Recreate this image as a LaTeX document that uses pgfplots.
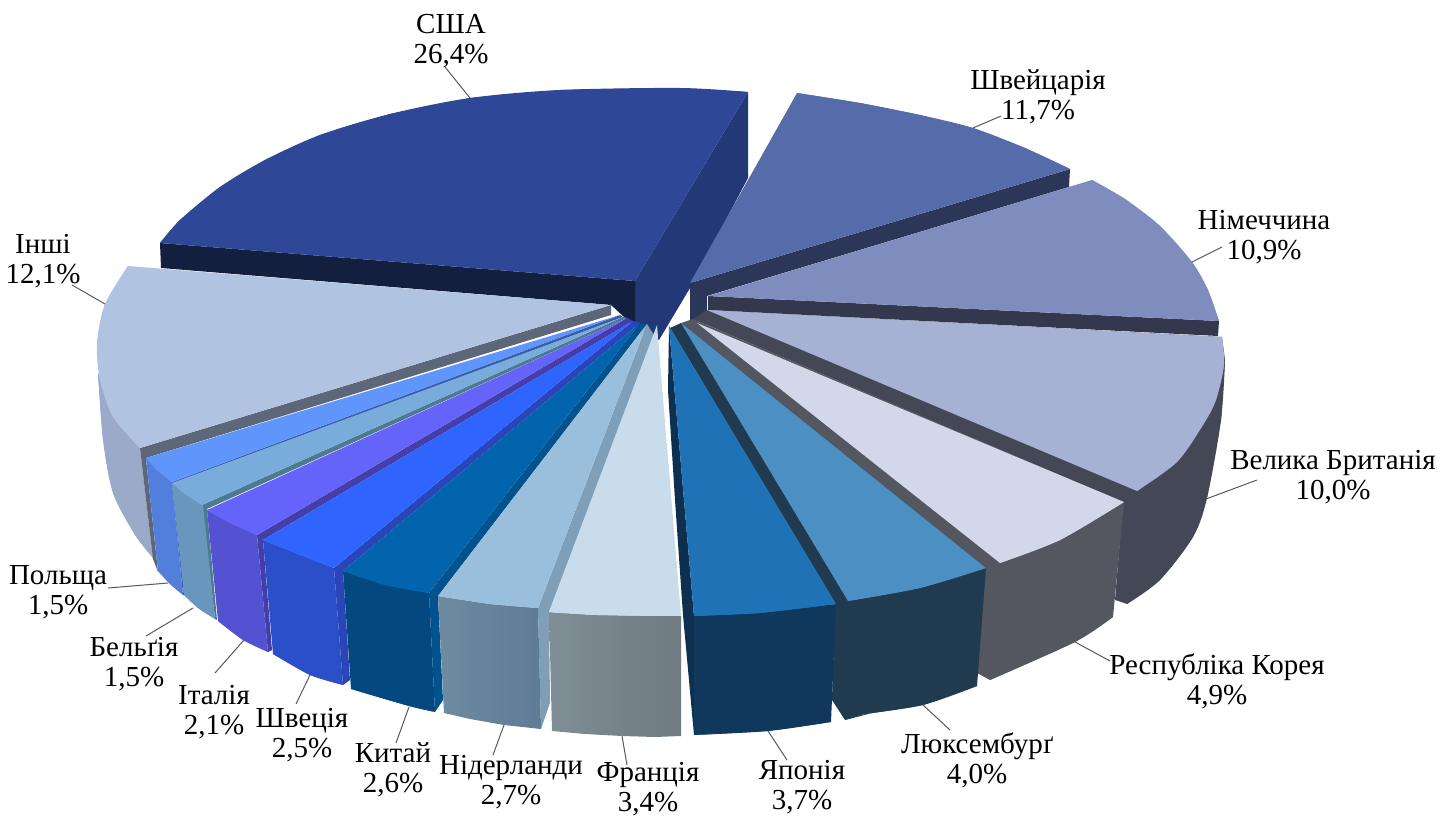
\documentclass[border=0pt]{standalone}
\usepackage{fontspec}
\setmainfont{Liberation Serif}
\usepackage{pgfplots}
\pgfplotsset{compat=1.18}
\definecolor{usatop}{HTML}{2E4797}
\definecolor{usaside}{HTML}{233876}
\definecolor{usaband}{HTML}{131F3F}
\definecolor{chtop}{HTML}{566BA9}
\definecolor{chband}{HTML}{2C3659}
\definecolor{detop}{HTML}{7F8DBE}
\definecolor{deband}{HTML}{33384F}
\definecolor{uktop}{HTML}{A6B1D4}
\definecolor{ukband}{HTML}{444856}
\definecolor{krtop}{HTML}{D3D7EA}
\definecolor{krband}{HTML}{54575F}
\definecolor{lutop}{HTML}{4C8FC3}
\definecolor{luband}{HTML}{203A4F}
\definecolor{jptop}{HTML}{1F72B6}
\definecolor{jpband}{HTML}{0E3050}
\definecolor{jpside}{HTML}{10375C}
\definecolor{frtop}{HTML}{C9DCEC}
\definecolor{frl}{HTML}{808E96}
\definecolor{frr}{HTML}{6F7A82}
\definecolor{nltop}{HTML}{9ABFDC}
\definecolor{nlband}{HTML}{7F9FB9}
\definecolor{nll}{HTML}{6F8BA1}
\definecolor{nlr}{HTML}{5F7B96}
\definecolor{cntop}{HTML}{0364AE}
\definecolor{cnband}{HTML}{02528D}
\definecolor{cnside}{HTML}{03497F}
\definecolor{setop}{HTML}{2F64FF}
\definecolor{seband}{HTML}{2A45B8}
\definecolor{seside}{HTML}{2B4EC9}
\definecolor{ittop}{HTML}{6464FB}
\definecolor{itband}{HTML}{443FA8}
\definecolor{itside}{HTML}{5451D2}
\definecolor{betop}{HTML}{79ACDB}
\definecolor{beband}{HTML}{4E7A8F}
\definecolor{beside}{HTML}{6896BC}
\definecolor{pltop}{HTML}{6096FC}
\definecolor{plband}{HTML}{3B5CA8}
\definecolor{plside}{HTML}{527FDB}
\definecolor{ottop}{HTML}{B0C4E2}
\definecolor{otband}{HTML}{5D6779}
\definecolor{otside}{HTML}{9AAAC8}
\definecolor{leader}{HTML}{595959}
\tikzset{
    lab/.style={align=center, text=black, font=\fontsize{29}{30}\selectfont, inner sep=0pt},
    ptr/.style={draw=leader, line width=1pt, fill=none},
}
% colour, points before the curved edge, points of the curved edge, points after it
\newcommand{\face}[4]{%
  \addplot[fill=#1] coordinates {#2#3#4};
  \addplot[fill=#1, smooth] coordinates {#3};
}
\begin{document}
\begin{tikzpicture}
\useasboundingbox (0,0) rectangle (1441pt,818pt);
\begin{axis}[
    scale only axis,
    width=1441pt,
    height=818pt,
    xmin=0, xmax=1441,
    ymin=0, ymax=818,
    y dir=reverse,
    hide axis,
    clip=false,
    every axis plot/.append style={draw=none, mark=none},
]
% USA
\addplot[fill=usaside] coordinates {(748,92)(635,281)(635,330)(659,340)(690,288)(748,178)};
\addplot[fill=usaband] coordinates {(160,243)(635,281)(635,327)(611,305)(161,268)};
\face{usatop}{(635,281)}{(160,243)(180,220)(220,187)(265,160)(320,135)(390,114)(470,98)(560,90)(680,88)(748,92)}{}
% Switzerland
\addplot[fill=chband] coordinates {(690,283)(1070,169)(1069,187)(707,296)(707,322)(690,320)};
\face{chtop}{(690,283)}{(797,93)(860,103)(920,115)(973,128)(1025,148)(1070,169)}{}
% Germany
\addplot[fill=deband] coordinates {(708,296)(1219,321)(1218,336)(708,310)};
\face{detop}{(708,296)}{(1092,180)(1125,199)(1160,226)(1192,262)(1208,290)(1219,321)}{}
% Others
\face{otside}{(140,448)}{(98,373)(103,440)(113,493)(135,535)(153,558)}{}
\addplot[fill=otband] coordinates {(611,305)(611,315)(146,458)(158,572)(153,559)(140,448)};
\face{ottop}{(611,305)}{(128,266)(105,304)(97,343)(100,380)(113,417)(140,448)}{}
% Great Britain
\face{ukband}{(707,310)(1222,337)}{(1225,360)(1221,420)(1207,498)(1193,537)(1160,580)(1127,604)}{(1115,600)(1123,502)(693,319)}
\face{uktop}{(707,310)}{(1222,337)(1224,365)(1216,400)(1203,425)(1177,462)(1137,491)}{}
% Republic of Korea
\face{krband}{(693,319)(1124,502)}{(1113,617)(1075,642)(990,680)}{(977,673)(985,568)(681,323)}
\face{krtop}{(697,323)}{(1124,502)(1060,540)(1000,563)}{}
% Luxembourg
\face{luband}{(681,323)(986,568)}{(977,686)(923,705)(860,715)(845,720)}{(832,700)(835,603)(670,328)}
\face{lutop}{(681,323)}{(986,568)(920,588)(848,601)}{}
% Poland
\addplot[fill=plband] coordinates {(620,315)(623,317)(175,484)(184,595)(183,595)(172,482)};
\face{plside}{(172,482)}{(183,595)(170,584)(158,571)}{(146,458)}
\face{pltop}{(620,315)}{(146,458)(157,470)(172,482)}{}
% Belgium
\addplot[fill=beband] coordinates {(623,317)(627,318)(207,509)(217,620)(215,619)(202,505)};
\face{beside}{(203,505)}{(215,619)(198,608)(184,595)}{(172,483)}
\face{betop}{(623,317)}{(172,483)(185,494)(202,505)}{}
% Italy
\addplot[fill=itband] coordinates {(627,318)(633,321)(263,540)(272,650)(268,652)(257,535)};
\face{itside}{(257,535)}{(268,652)(243,640)(218,621)}{(207,510)}
\face{ittop}{(627,318)}{(207,510)(230,523)(257,535)}{}
% Sweden
\addplot[fill=seband] coordinates {(633,321)(640,323)(343,571)(350,680)(343,685)(334,568)};
\face{seside}{(334,568)}{(343,685)(310,675)(273,654)}{(263,540)}
\face{setop}{(633,321)}{(263,540)(300,555)(334,568)}{}
% China
\addplot[fill=cnband] coordinates {(640,323)(647,324)(438,596)(443,700)(435,712)(429,593)};
\face{cnside}{(429,593)}{(435,712)(409,706)(351,689)}{(343,571)}
\face{cntop}{(640,323)}{(343,571)(385,585)(429,593)}{}
% Netherlands
\addplot[fill=nlband] coordinates {(647,324)(654,335)(549,612)(550,703)(541,729)(538,608)};
\addplot[left color=nll, right color=nlr] coordinates {(438,596)(490,604)(538,608)(541,729)(504,725)(470,719)(444,713)};
\face{nltop}{(647,324)}{(438,596)(490,604)(538,608)}{}
% France
\addplot[left color=frl, right color=frr] coordinates {(549,612)(597,615)(681,616)(681,736)(655,737)(622,736)(585,734)(552,731)};
\face{frtop}{(657,325)}{(549,612)(597,615)(681,616)}{}
% Japan
\addplot[fill=jpband] coordinates {(669,326)(694,616)(694,735)(683,615)(675,500)(668,390)};
\face{jpside}{(694,616)(836,604)}{(831,722)(768,731)(694,735)}{}
\face{jptop}{(669,326)}{(836,604)(760,613)(694,616)}{}
% leader lines
\addplot[ptr] coordinates {(470,98)(445,67)};
\addplot[ptr] coordinates {(973,128)(1001,116)};
\addplot[ptr] coordinates {(1192,262)(1222,247)};
\addplot[ptr] coordinates {(1206,499)(1257,480)};
\addplot[ptr] coordinates {(1075,642)(1110,661)};
\addplot[ptr] coordinates {(923,705)(950,730)};
\addplot[ptr] coordinates {(768,731)(787,760)};
\addplot[ptr] coordinates {(622,736)(627,765)};
\addplot[ptr] coordinates {(504,725)(493,755)};
\addplot[ptr] coordinates {(409,707)(396,743)};
\addplot[ptr] coordinates {(310,675)(296,704)};
\addplot[ptr] coordinates {(244,640)(215,673)};
\addplot[ptr] coordinates {(193,608)(146,636)};
\addplot[ptr] coordinates {(168,583)(108,588)};
\addplot[ptr] coordinates {(105,304)(72,285)};
% labels
\node[lab] at (axis cs:451,41) {США\\26,4\%};
\node[lab] at (axis cs:1038,97) {Швейцарія\\11,7\%};
\node[lab] at (axis cs:1264,237) {Німеччина\\10,9\%};
\node[lab] at (axis cs:1333,477) {Велика Британія\\10,0\%};
\node[lab] at (axis cs:1217,681) {Республіка Корея\\4,9\%};
\node[lab] at (axis cs:977,760) {Люксембурґ\\4,0\%};
\node[lab] at (axis cs:802,787) {Японія\\3,7\%};
\node[lab] at (axis cs:648,789) {Франція\\3,4\%};
\node[lab] at (axis cs:511,782) {Нідерланди\\2,7\%};
\node[lab] at (axis cs:393,770) {Китай\\2,6\%};
\node[lab] at (axis cs:302,735) {Швеція\\2,5\%};
\node[lab] at (axis cs:214,712) {Італія\\2,1\%};
\node[lab] at (axis cs:134,664) {Бельґія\\1,5\%};
\node[lab] at (axis cs:58,592) {Польща\\1,5\%};
\node[lab] at (axis cs:43,261) {Інші\\12,1\%};
\end{axis}
\end{tikzpicture}
\end{document}
